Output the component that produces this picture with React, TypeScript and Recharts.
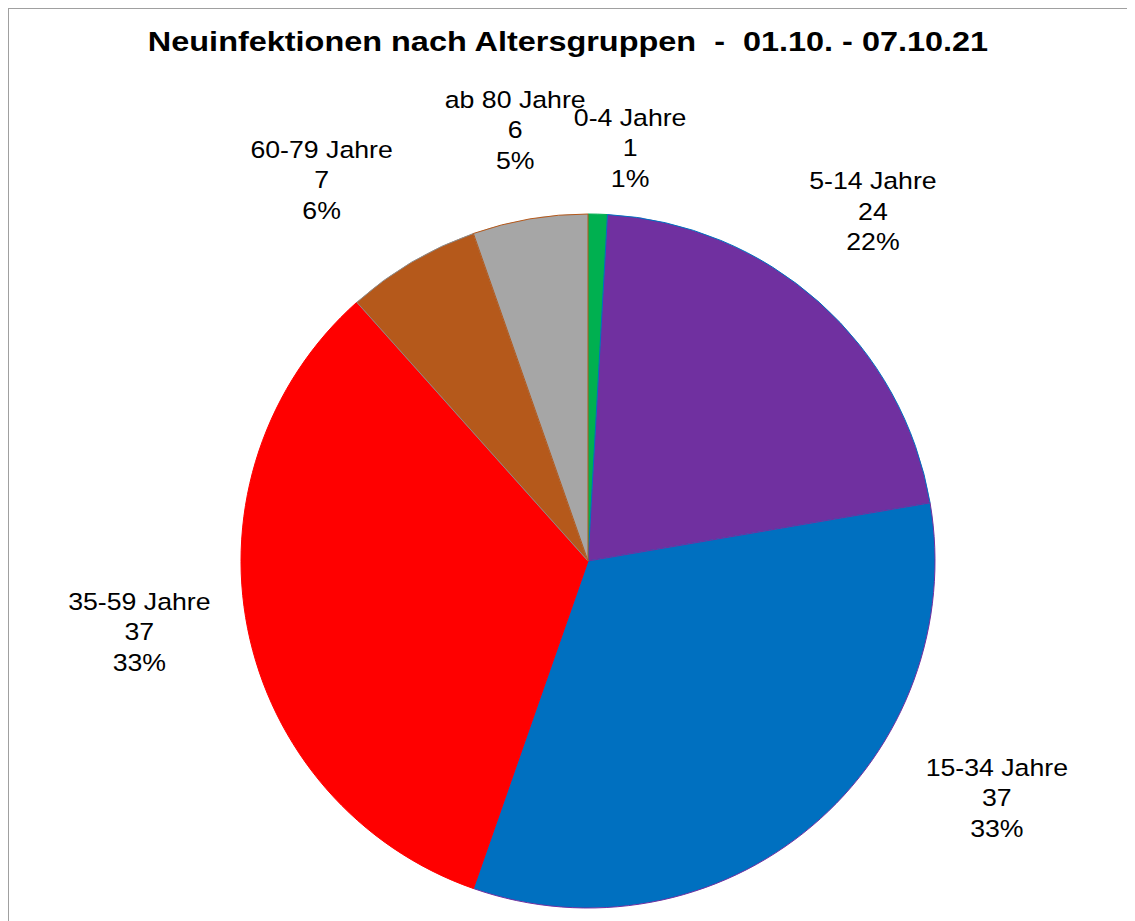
import React from 'react';
import { PieChart, Pie, Cell } from 'recharts';

// Age groups and their new infections (01.10. - 07.10.21)
const GROUPS = ['0-4 Jahre', '5-14 Jahre', '15-34 Jahre', '35-59 Jahre', '60-79 Jahre', 'ab 80 Jahre'];
const CASES = [1, 24, 37, 37, 7, 6];
const PERCENT_LABELS = ['1%', '22%', '33%', '33%', '6%', '5%'];

const FILLS = ['#00B050', '#7030A0', '#0070C0', '#FF0000', '#B5591B', '#A6A6A6'];
const STROKES = ['#00B050', '#0070C0', '#7030A0', '#FF0000', '#8C8C8C', '#B5591B'];

// label placement: angle clockwise from 12 o'clock (deg), distance from pie centre (px)
const LABEL_ANGLE = [5.9, 39.6, 120.6, 260.4, 324.7, 350.3];
const LABEL_RADIUS = [410, 447, 475, 455, 461, 432];

const data = GROUPS.map((name, i) => ({ name, value: CASES[i] }));

const FONT = '"Liberation Sans", Arial, sans-serif';
const STRETCH = 1.135; // the original text is slightly widened

const renderLabel = (props: any) => {
  const { cx, cy, index } = props;
  const a = (LABEL_ANGLE[index] * Math.PI) / 180;
  const r = LABEL_RADIUS[index];
  const x = cx + r * Math.sin(a);
  const y = cy - r * Math.cos(a);
  const lh = 30.5;
  return (
    <text
      x={x}
      y={y - lh + 3.3}
      textAnchor="middle"
      fill="#000"
      fontSize={23.5}
      fontFamily={FONT}
      transform={`translate(${x} 0) scale(${STRETCH} 1) translate(${-x} 0)`}
    >
      <tspan x={x} dy={0}>{GROUPS[index]}</tspan>
      <tspan x={x} dy={lh}>{CASES[index]}</tspan>
      <tspan x={x} dy={lh}>{PERCENT_LABELS[index]}</tspan>
    </text>
  );
};

const App: React.FC = () => {
  return (
    <div style={styles.frame}>
      <div style={styles.title}>Neuinfektionen nach Altersgruppen&nbsp; - &nbsp;01.10. - 07.10.21</div>
      <PieChart width={1126} height={912} style={{ position: 'absolute', left: 0, top: 0 }}>
        <Pie
          data={data}
          dataKey="value"
          nameKey="name"
          cx={574}
          cy={547}
          outerRadius={347}
          startAngle={90}
          endAngle={-270}
          label={renderLabel}
          labelLine={false}
          isAnimationActive={false}
        >
          {data.map((d, i) => (
            <Cell key={d.name} fill={FILLS[i]} stroke={STROKES[i]} strokeWidth={1} />
          ))}
        </Pie>
      </PieChart>
    </div>
  );
};

const styles: Record<string, React.CSSProperties> = {
  frame: {
    position: 'relative',
    width: 1127,
    height: 913,
    boxSizing: 'border-box',
    borderLeft: '1px solid #A0A0A0',
    borderTop: '1px solid #A0A0A0',
    background: '#fff',
    overflow: 'hidden',
  },
  title: {
    position: 'absolute',
    left: -3,
    top: 17,
    width: 1124,
    textAlign: 'center',
    fontFamily: FONT,
    fontWeight: 700,
    fontSize: 28,
    lineHeight: '32px',
    whiteSpace: 'pre',
    color: '#000',
    transform: 'scaleX(1.158)',
    zIndex: 1,
  },
};

export default App;
